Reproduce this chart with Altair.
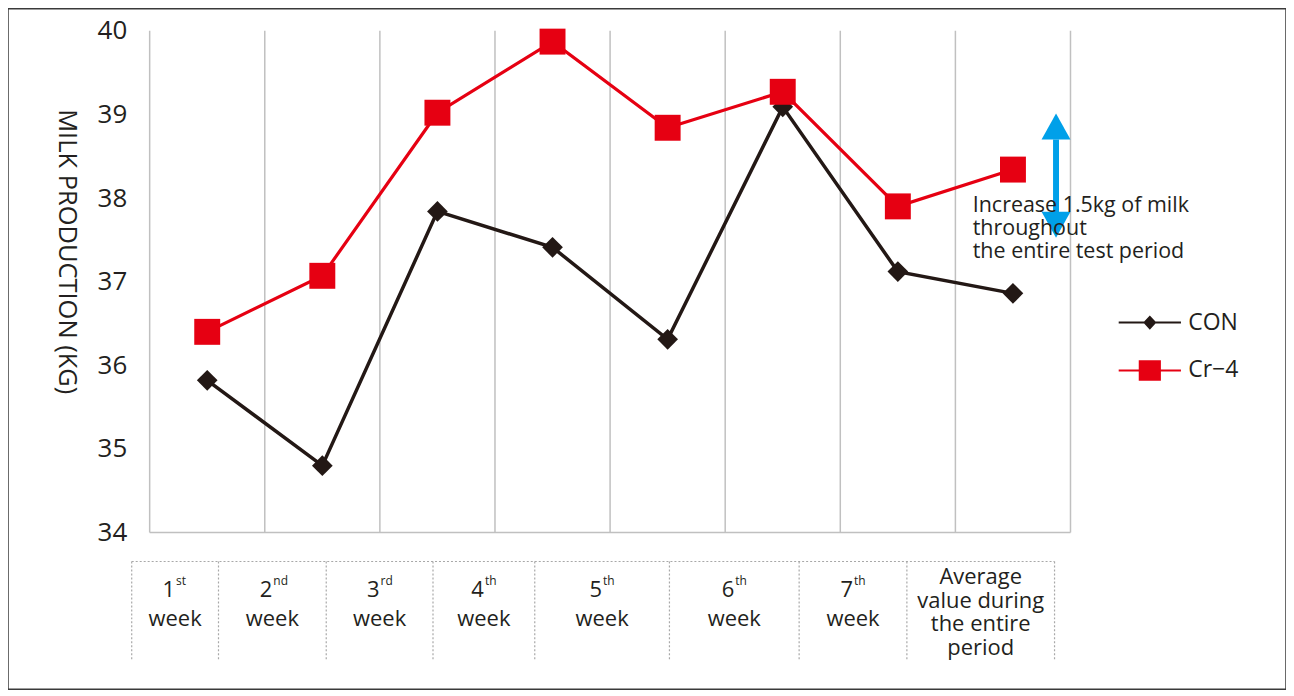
import altair as alt
import pandas as pd

# ---------------- data ----------------
categories = ["1st week", "2nd week", "3rd week", "4th week", "5th week",
              "6th week", "7th week", "Average value during the entire period"]
con_values = [35.82, 34.80, 37.84, 37.41, 36.31, 39.09, 37.12, 36.86]
cr4_values = [36.40, 37.07, 39.02, 39.87, 38.84, 39.27, 37.90, 38.34]
series_names = ["CON", "Cr−4"]
y_tick_values = [34, 35, 36, 37, 38, 39, 40]
week_numbers = ["1", "2", "3", "4", "5", "6", "7"]
week_suffixes = ["st", "nd", "rd", "th", "th", "th", "th"]
week_word = "week"
average_label = "Average\nvalue during\nthe entire\nperiod"
annotation_text = "Increase 1.5kg of milk\nthroughout\nthe entire test period"
y_title = "MILK PRODUCTION (KG)"

# ---------------- styles / layout ----------------
FONT = "Open Sans"
TXT = "#231f20"
colors = ["#231815", "#E60012"]
GRID = "#c0c0c0"
DASH = "#a8a8a8"
ARROW = "#00A0E9"

W, H = 1281, 682
X_DOM = [-1.23077, 9.8722]
Y_DOM = [32.12724, 40.26243]

# table under the plot (in x-scale units)
table_edges = [-0.156, 0.598, 1.534, 2.4615, 3.3456, 4.5157, 5.6424, 6.5785, 7.8613]
table_top, table_bottom = 33.654, 32.4612
num_y, word_y, avg_y = 33.2246, 32.8787, 33.3797

# annotation (in data units)
ann_x, ann_y = 7.1506, 37.829
arrow_x = 7.8743
shaft = (38.70, 37.829)
head_up_y, head_down_y = 38.855, 37.680
HEAD_UP = "M-1,0.9L1,0.9L0,-0.9Z"
HEAD_DOWN = "M-1,-0.9L1,-0.9L0,0.9Z"

legend_paths = [
    "M-5.2,-0.17H5.2V0.17H-5.2Z M0,-1.2L1.1,0L0,1.2L-1.1,0Z",
    "M-5.2,-0.17H5.2V0.17H-5.2Z M-1.85,-1.7H1.85V1.7H-1.85Z",
]

xscale = alt.Scale(domain=X_DOM, nice=False, zero=False)
yscale = alt.Scale(domain=Y_DOM, nice=False, zero=False)
yaxis = alt.Axis(values=y_tick_values, format="d", grid=False, domain=False,
                 ticks=False, tickSize=0, labelPadding=0, offset=-119,
                 labelFont=FONT, labelFontSize=26, labelColor=TXT,
                 title=y_title, titleAngle=90, titleX=-60, titleY=243,
                 titleAlign="center", titleBaseline="middle",
                 titleFont=FONT, titleFontSize=25.5, titleFontWeight="normal",
                 titleColor=TXT)


def X(f):
    return alt.X(f, type="quantitative", scale=xscale, axis=None)


def Y(f):
    return alt.Y(f, type="quantitative", scale=yscale, axis=yaxis)


n = len(categories)
pos = [i + 0.5 for i in range(n)]
con_df = pd.DataFrame({"pos": pos, "value": con_values, "cat": categories})
cr_df = pd.DataFrame({"pos": pos, "value": cr4_values, "cat": categories})

grid_df = pd.DataFrame({"x": list(range(n + 1)), "y": [34] * (n + 1), "y2": [40] * (n + 1)})
grid = alt.Chart(grid_df).mark_rule(color=GRID, strokeWidth=1.5).encode(
    x=X("x"), y=Y("y"), y2="y2")
base_df = pd.DataFrame({"x": [0], "x2": [n], "y": [34]})
baseline = alt.Chart(base_df).mark_rule(color=GRID, strokeWidth=1.5).encode(
    x=X("x"), x2="x2", y=Y("y"))

ttop_df = pd.DataFrame({"x": [table_edges[0]], "x2": [table_edges[-1]], "y": [table_top]})
ttop = alt.Chart(ttop_df).mark_rule(color=DASH, strokeWidth=1.2, strokeDash=[2, 2]).encode(
    x=X("x"), x2="x2", y=Y("y"))
tv_df = pd.DataFrame({"x": table_edges, "y": [table_top] * len(table_edges),
                      "y2": [table_bottom] * len(table_edges)})
tverts = alt.Chart(tv_df).mark_rule(color=DASH, strokeWidth=1.2, strokeDash=[2, 2]).encode(
    x=X("x"), y=Y("y"), y2="y2")

centers = [(table_edges[i] + table_edges[i + 1]) / 2 for i in range(n)]
wk_df = pd.DataFrame({"x": centers[:7], "num": week_numbers, "suf": week_suffixes,
                      "word": [week_word] * 7, "ny": [num_y] * 7, "wy": [word_y] * 7})
nums = alt.Chart(wk_df).mark_text(align="right", baseline="alphabetic", font=FONT,
                                  fontSize=22, color=TXT).encode(
    x=X("x"), y=Y("ny"), text="num")
sufs = alt.Chart(wk_df).mark_text(align="left", baseline="alphabetic", font=FONT,
                                  fontSize=12, color=TXT, dx=1, dy=-12).encode(
    x=X("x"), y=Y("ny"), text="suf")
words = alt.Chart(wk_df).mark_text(align="center", baseline="alphabetic", font=FONT,
                                   fontSize=22, color=TXT).encode(
    x=X("x"), y=Y("wy"), text="word")
avg_df = pd.DataFrame({"x": [centers[7]], "y": [avg_y], "t": [average_label]})
avg = alt.Chart(avg_df).mark_text(align="center", baseline="alphabetic", font=FONT,
                                  fontSize=22, color=TXT, lineBreak="\n",
                                  lineHeight=23.5).encode(
    x=X("x"), y=Y("y"), text="t")

con_line = alt.Chart(con_df).mark_line(color=colors[0], strokeWidth=3.5).encode(
    x=X("pos"), y=Y("value"))
con_pts = alt.Chart(con_df).mark_point(filled=True, shape="diamond", size=430,
                                       opacity=1, color=colors[0]).encode(
    x=X("pos"), y=Y("value"))
cr_line = alt.Chart(cr_df).mark_line(color=colors[1], strokeWidth=3.2).encode(
    x=X("pos"), y=Y("value"))
cr_pts = alt.Chart(cr_df).mark_point(filled=True, shape="square", size=676,
                                     opacity=1, color=colors[1]).encode(
    x=X("pos"), y=Y("value"))

shaft_df = pd.DataFrame({"x": [arrow_x], "y": [shaft[0]], "y2": [shaft[1]]})
arrow_shaft = alt.Chart(shaft_df).mark_rule(color=ARROW, strokeWidth=6).encode(
    x=X("x"), y=Y("y"), y2="y2")
up_df = pd.DataFrame({"x": [arrow_x], "y": [head_up_y]})
down_df = pd.DataFrame({"x": [arrow_x], "y": [head_down_y]})
head_up = alt.Chart(up_df).mark_point(filled=True, opacity=1, size=841, shape=HEAD_UP,
                                      color=ARROW).encode(x=X("x"), y=Y("y"))
head_down = alt.Chart(down_df).mark_point(filled=True, opacity=1, size=841, shape=HEAD_DOWN,
                                          color=ARROW).encode(x=X("x"), y=Y("y"))

ann_df = pd.DataFrame({"x": [ann_x], "y": [ann_y], "t": [annotation_text]})
ann = alt.Chart(ann_df).mark_text(align="left", baseline="alphabetic", font=FONT,
                                  fontSize=21.5, color=TXT, lineBreak="\n",
                                  lineHeight=23).encode(
    x=X("x"), y=Y("y"), text="t")

leg = alt.Legend(orient="none", legendX=1133, legendY=303, title=None,
                 labelFont=FONT, labelFontSize=23, labelColor=TXT,
                 symbolSize=144, symbolStrokeWidth=0, labelOffset=27,
                 rowPadding=24, padding=0)
leg_df = pd.DataFrame({"series": series_names, "pos": [0, 0], "value": [34, 34]})
legend_layer = alt.Chart(leg_df).transform_filter("false").mark_point(
    filled=True, opacity=1).encode(
    x=X("pos"), y=Y("value"),
    color=alt.Color("series:N", scale=alt.Scale(domain=series_names, range=colors), legend=leg),
    shape=alt.Shape("series:N", scale=alt.Scale(domain=series_names, range=legend_paths), legend=leg))

chart = alt.layer(
    grid, baseline, ttop, tverts, nums, sufs, words, avg,
    con_line, con_pts, cr_line, cr_pts, arrow_shaft, head_up, head_down, ann, legend_layer
).properties(
    width=W, height=H, padding=0
).configure_view(stroke="#3a3a3a", strokeWidth=1.5)

chart.save("out.html", embed_options={"renderer": "svg", "actions": False})
